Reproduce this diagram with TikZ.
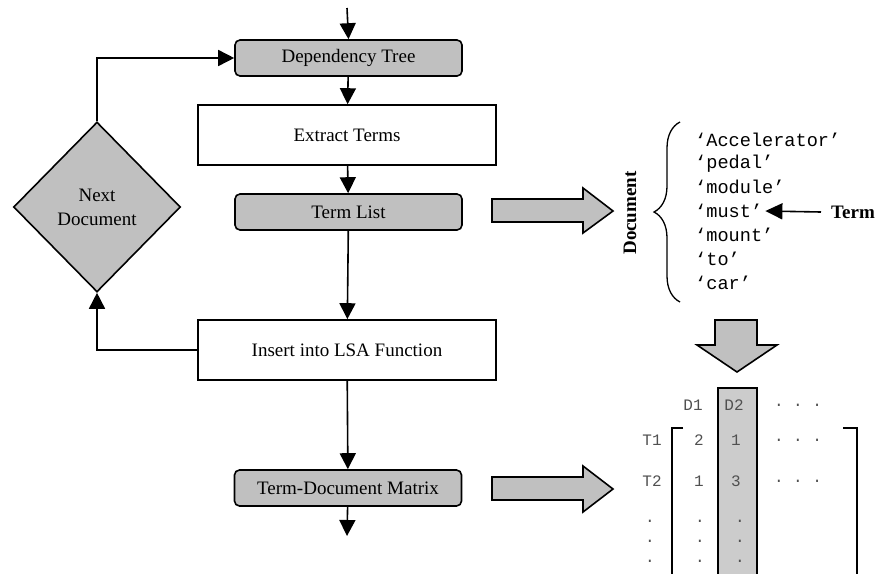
\documentclass[tikz,border=0pt]{standalone}
\usepackage{fontspec}
\setmainfont{Liberation Serif}
\setmonofont{Liberation Mono}
\usetikzlibrary{arrows.meta,shapes.geometric,decorations.pathreplacing}
\definecolor{boxgray}{HTML}{C0C0C0}
\definecolor{colgray}{HTML}{CCCCCC}
\definecolor{mtext}{HTML}{505050}
\tikzset{
  arr/.style={line width=1.6pt,-{Triangle[width=16pt,length=16pt]}},
  graybox/.style={draw,line width=1.6pt,fill=boxgray,rounded corners=5pt,minimum width=227pt,minimum height=36pt,inner sep=0pt,font=\fontsize{19}{22}\selectfont},
  whitebox/.style={draw,line width=1.6pt,fill=white,minimum width=298pt,minimum height=60pt,inner sep=0pt,font=\fontsize{19}{22}\selectfont},
  decbox/.style={draw,line width=1.6pt,fill=boxgray,diamond,minimum width=167pt,minimum height=170pt,inner sep=0pt,align=center,font=\fontsize{19}{24}\selectfont},
  blockarrow/.style={draw,line width=1.6pt,fill=boxgray,line join=miter},
  word/.style={anchor=west,inner sep=0pt,font=\fontsize{18.6}{22}\ttfamily},
  mcell/.style={inner sep=0pt,text=mtext,font=\fontsize{16}{18}\ttfamily},
  vdots/.style={inner sep=0pt,text=mtext,align=center,font=\fontsize{16}{20}\ttfamily},
  bold/.style={font=\fontsize{19}{22}\selectfont\bfseries}
}
\begin{document}
\begin{tikzpicture}[x=1pt,y=-1pt]
\useasboundingbox (0,0) rectangle (877,573);
% flowchart
\node[graybox] (dep) at (348.5,58) {Dependency Tree};
\node[whitebox] (ext) at (347,135) {Extract Terms};
\node[graybox] (tl) at (348.5,212) {Term List};
\node[whitebox] (lsa) at (347,350) {Insert into LSA Function};
\node[graybox] (tdm) at (348,488) {Term-Document Matrix};
\node[decbox] (nd) at (97,207) {Next\\Document};
\coordinate (in) at (347,8);
\coordinate (out) at (347,536);
\draw[arr] (in) -- (dep.north);
\draw[arr] (dep) -- (ext);
\draw[arr] (ext) -- (tl);
\draw[arr] (tl) -- (lsa);
\draw[arr] (lsa) -- (tdm);
\draw[arr] (tdm) -- (out);
\draw[arr] (lsa.west) -| (nd.south);
\draw[arr] (nd.north) |- (dep.west);
% block arrows
\draw[blockarrow] (492,199) -- (583,199) -- (583,188) -- (613,211) -- (583,233) -- (583,222) -- (492,222) -- cycle;
\draw[blockarrow] (492,477) -- (583,477) -- (583,466) -- (613,489) -- (583,512) -- (583,500) -- (492,500) -- cycle;
\draw[blockarrow] (715,320) -- (757,320) -- (757,345) -- (777,345) -- (737,372) -- (697,345) -- (715,345) -- cycle;
% document list
\node[bold,rotate=90] (doc) at (630,213) {Document};
\draw[line width=1.3pt,decorate,decoration={brace,amplitude=26pt}] (680,302) -- (680,122);
\node[word] (w1) at (695,140) {‘Accelerator’};
\node[word] (w2) at (695,163.5) {‘pedal’};
\node[word] (w3) at (695,187) {‘module’};
\node[word] (w4) at (695,211) {‘must’};
\node[word] (w5) at (695,235) {‘mount’};
\node[word] (w6) at (695,259) {‘to’};
\node[word] (w7) at (695,282.5) {‘car’};
\node[bold,inner xsep=10pt,inner ysep=2pt] (term) at (853,212) {Term};
\draw[line width=1.6pt,-{Triangle[width=16pt,length=17pt]}] (term.west) -- ([xshift=3pt]w4.east);
% matrix
\draw[line width=1.6pt,fill=colgray] (718,590) -- (718,388) -- (757,388) -- (757,590);
\draw[line width=1.6pt] (683,428) -- (672,428) -- (672,590);
\draw[line width=1.6pt] (843,428) -- (857,428) -- (857,590);
\node[mcell] (d1) at (693,405) {D1};
\node[mcell] (d2) at (734,405) {D2};
\node[mcell] (dd) at (798,405) {. . .};
\node[mcell] (t1) at (652,440) {T1};
\node[mcell] (a11) at (699,440) {2};
\node[mcell] (a12) at (736,440) {1};
\node[mcell] (a13) at (798,440) {. . .};
\node[mcell] (t2) at (652,481) {T2};
\node[mcell] (a21) at (699,481) {1};
\node[mcell] (a22) at (736,481) {3};
\node[mcell] (a23) at (798,481) {. . .};
\node[vdots] (vd1) at (650,541) {.\\.\\.};
\node[vdots] (vd2) at (700,541) {.\\.\\.};
\node[vdots] (vd3) at (740,541) {.\\.\\.};
\end{tikzpicture}
\end{document}
